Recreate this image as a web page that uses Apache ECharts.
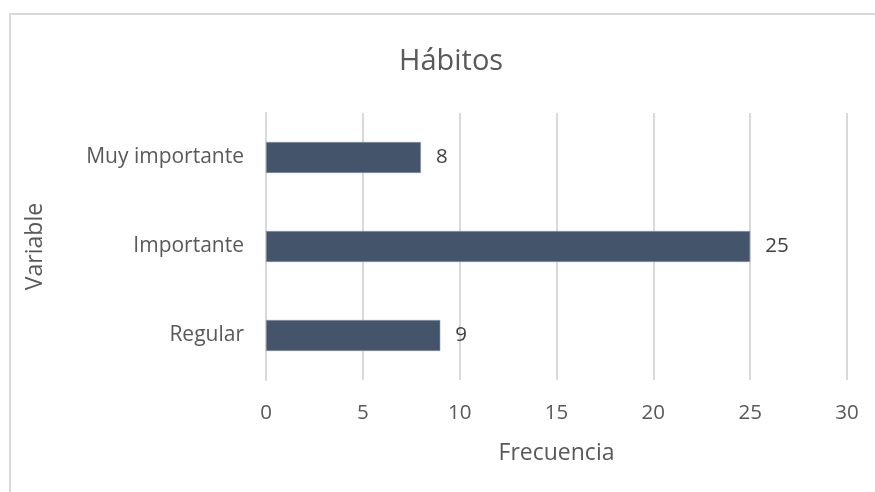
<!DOCTYPE html>
<html>
<head>
<meta charset="utf-8">
<script src="https://cdn.jsdelivr.net/npm/echarts@6/dist/echarts.min.js"></script>
<style>
  html, body { margin: 0; padding: 0; background: #fff; }
  #chart { width: 875px; height: 492px; }
</style>
</head>
<body>
<div id="chart"></div>
<script>
// categories bottom -> top as drawn by the category axis
const categories = ["Regular", "Importante", "Muy importante"];
const frecuencia = [9, 25, 8];

const chart = echarts.init(document.getElementById("chart"));
const font = "Open Sans";

const option = {
  backgroundColor: "#fff",
  animation: false,
  title: {
    text: "Hábitos",
    left: 394,
    top: 42,
    textStyle: { fontFamily: font, fontSize: 29, fontWeight: "normal", color: "#595959" }
  },
  graphic: [
    {
      type: "rect",
      shape: { x: 10, y: 14, width: 900, height: 520 },
      style: { fill: "none", stroke: "#d9d9d9", lineWidth: 2 },
      silent: true
    }
  ],
  grid: { left: 266, right: 28, top: 113, bottom: 112 },
  xAxis: {
    type: "value",
    min: 0,
    max: 30,
    interval: 5,
    name: "Frecuencia",
    nameLocation: "middle",
    nameGap: 62,
    nameTextStyle: { fontFamily: font, fontSize: 23, color: "#595959" },
    axisLine: { show: false },
    axisTick: { show: false },
    axisLabel: { fontFamily: font, fontSize: 20.5, color: "#595959", margin: 23 },
    splitLine: { lineStyle: { color: "#d9d9d9", width: 2 } }
  },
  yAxis: {
    type: "category",
    data: categories,
    name: "Variable",
    nameLocation: "middle",
    nameGap: 219,
    nameRotate: 90,
    nameTextStyle: { fontFamily: font, fontSize: 23, color: "#595959" },
    axisLine: { show: true, lineStyle: { color: "#d9d9d9", width: 2 } },
    axisTick: { show: false },
    axisLabel: { fontFamily: font, fontSize: 21, color: "#595959", margin: 22 }
  },
  series: [
    {
      type: "bar",
      data: frecuencia,
      barWidth: 31,
      itemStyle: { color: "#44546a", borderColor: "#8e99a8", borderWidth: 0.6 },
      label: {
        show: true,
        position: "right",
        distance: 15,
        fontFamily: font,
        fontSize: 20.5,
        color: "#404040"
      }
    }
  ]
};

chart.setOption(option);
</script>
</body>
</html>
